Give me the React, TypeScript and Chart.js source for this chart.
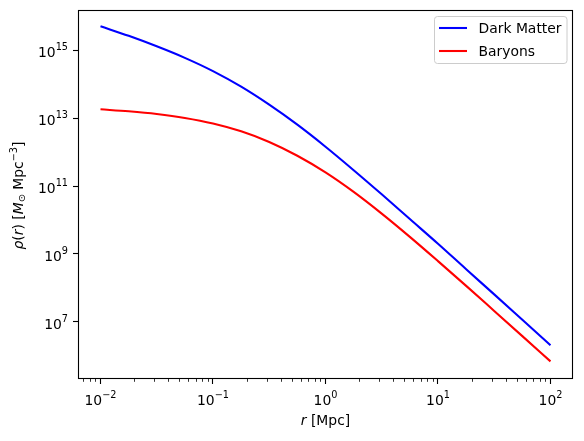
import React, { useEffect, useRef } from "react";
import { Chart, registerables } from "chart.js";

Chart.register(...registerables);

// ---- Data ----
const radiusMpc = [0.01, 0.0178, 0.0316, 0.0562, 0.1, 0.178, 0.316, 0.562, 1, 1.78, 3.16, 5.62, 10, 17.8, 31.6, 56.2, 100];
const darkMatterDensity = [5.13e15, 2.69e15, 1.32e15, 6.03e14, 2.45e14, 8.51e13, 2.51e13, 6.46e12, 1.45e12, 2.95e11, 5.75e10, 1.07e10, 2.0e9, 3.55e8, 6.46e7, 1.15e7, 2.04e6];
const baryonDensity = [1.84e13, 1.6e13, 1.33e13, 1.02e13, 7.0e12, 4.12e12, 2.0e12, 7.85e11, 2.54e11, 6.76e10, 1.55e10, 3.2e9, 6.17e8, 1.15e8, 2.1e7, 3.8e6, 6.84e5];
const seriesLabels = ["Dark Matter", "Baryons"];
const seriesColors = ["#0000ff", "#ff0000"];

const xTickValues = [0.01, 0.1, 1, 10, 100];
const xTickExponents = ["\u22122", "\u22121", "0", "1", "2"];
const yTickValues = [1e7, 1e9, 1e11, 1e13, 1e15];
const yTickExponents = ["7", "9", "11", "13", "15"];
const tickBase = "10";

const FONT = "'DejaVu Sans', 'Liberation Sans', sans-serif";
const FS = 13.9;
const SUP = 0.7;

type Seg = { t: string; i?: boolean; s?: number; dy?: number };

function segFont(seg: Seg) {
  const size = FS * (seg.s ?? 1);
  return `${seg.i ? "italic " : ""}${size}px ${FONT}`;
}

function measureRich(ctx: CanvasRenderingContext2D, segs: Seg[]) {
  return segs.map((sg) => {
    ctx.font = segFont(sg);
    return ctx.measureText(sg.t).width;
  });
}

// align: 0 = left start, 0.5 = centre, 1 = right end
function drawRich(ctx: CanvasRenderingContext2D, segs: Seg[], ax: number, baseY: number, align: number) {
  const widths = measureRich(ctx, segs);
  const total = widths.reduce((a, b) => a + b, 0);
  let x = ax - total * align;
  ctx.textAlign = "left";
  ctx.textBaseline = "alphabetic";
  segs.forEach((sg, k) => {
    ctx.font = segFont(sg);
    ctx.fillText(sg.t, x, baseY + (sg.dy ?? 0));
    x += widths[k];
  });
}

const decorPlugin = {
  id: "decor",
  afterDatasetsDraw(chart: any) {
    const { ctx, chartArea } = chart;
    const { left, right, top, bottom } = chartArea;
    const xs = chart.scales.x;
    const ys = chart.scales.y;
    ctx.save();
    ctx.fillStyle = "#000";
    ctx.strokeStyle = "#000";

    // minor ticks on x axis
    ctx.lineWidth = 0.8;
    for (let e = -3; e <= 2; e++) {
      for (let m = 2; m <= 9; m++) {
        const v = m * Math.pow(10, e);
        if (v < xs.min || v > xs.max) continue;
        const px = Math.round(xs.getPixelForValue(v)) + 0.5;
        ctx.beginPath();
        ctx.moveTo(px, bottom);
        ctx.lineTo(px, bottom + 2.8);
        ctx.stroke();
      }
    }

    // frame
    ctx.lineWidth = 1.1;
    ctx.strokeRect(Math.round(left) + 0.5, Math.round(top) + 0.5, Math.round(right - left) - 1, Math.round(bottom - top) - 1);

    // tick labels
    ctx.fillStyle = "#000";
    xTickValues.forEach((v, k) => {
      const px = xs.getPixelForValue(v);
      drawRich(ctx, [{ t: tickBase }, { t: xTickExponents[k], s: SUP, dy: -7 }], px, bottom + 26, 0.5);
    });
    yTickValues.forEach((v, k) => {
      const py = ys.getPixelForValue(v);
      drawRich(ctx, [{ t: tickBase }, { t: yTickExponents[k], s: SUP, dy: -7 }], left - 10, py + 7, 1);
    });

    // legend
    const bx = 434;
    const by = 16;
    const bw = 132.5;
    const bh = 47;
    ctx.beginPath();
    (ctx as any).roundRect(bx + 0.5, by + 0.5, bw, bh, 3);
    ctx.fillStyle = "rgba(255,255,255,0.8)";
    ctx.fill();
    ctx.strokeStyle = "#cccccc";
    ctx.lineWidth = 1;
    ctx.stroke();
    chart.data.datasets.forEach((ds: any, k: number) => {
      const rowY = by + 12 + k * 23;
      ctx.strokeStyle = ds.borderColor;
      ctx.lineWidth = 2.08;
      ctx.beginPath();
      ctx.moveTo(bx + 5, rowY);
      ctx.lineTo(bx + 33, rowY);
      ctx.stroke();
      ctx.fillStyle = "#000";
      ctx.font = `${FS}px ${FONT}`;
      ctx.textAlign = "left";
      ctx.textBaseline = "alphabetic";
      ctx.fillText(ds.label, bx + 44.5, rowY + 5);
    });

    // axis titles
    ctx.fillStyle = "#000";
    drawRich(ctx, [{ t: "r", i: true }, { t: " [Mpc]" }], (left + right) / 2, 424.5, 0.5);

    ctx.save();
    ctx.translate(22.5, 195.5);
    ctx.rotate(-Math.PI / 2);
    drawRich(
      ctx,
      [
        { t: "\u03C1", i: true },
        { t: "(" },
        { t: "r", i: true },
        { t: ")" },
        { t: " [" },
        { t: "M", i: true },
        { t: "\u2299", s: SUP, dy: 2.5 },
        { t: " Mpc" },
        { t: "\u22123", s: SUP, dy: -6 },
        { t: "]" },
      ],
      0,
      0,
      0.5
    );
    ctx.restore();
    ctx.restore();
  },
};

export default function App() {
  const canvasRef = useRef<HTMLCanvasElement | null>(null);

  useEffect(() => {
    document.body.style.margin = "0";
    const canvas = canvasRef.current;
    if (!canvas) return;
    const chart = new Chart(canvas, {
      type: "line",
      data: {
        datasets: [
          {
            label: seriesLabels[0],
            data: radiusMpc.map((r, k) => ({ x: r, y: darkMatterDensity[k] })),
            borderColor: seriesColors[0],
            borderWidth: 2.08,
            pointRadius: 0,
            fill: false,
            cubicInterpolationMode: "monotone",
          },
          {
            label: seriesLabels[1],
            data: radiusMpc.map((r, k) => ({ x: r, y: baryonDensity[k] })),
            borderColor: seriesColors[1],
            borderWidth: 2.08,
            pointRadius: 0,
            fill: false,
            cubicInterpolationMode: "monotone",
          },
        ],
      },
      options: {
        responsive: false,
        animation: false,
        events: [],
        layout: { padding: { top: 10, right: 11, left: 0, bottom: 0 } },
        plugins: { legend: { display: false }, tooltip: { enabled: false } },
        scales: {
          x: {
            type: "logarithmic",
            min: 0.00631,
            max: 158.5,
            afterBuildTicks: (s: any) => {
              s.ticks = xTickValues.map((v) => ({ value: v }));
            },
            afterFit: (s: any) => {
              s.height = 62;
              s.paddingLeft = 0;
              s.paddingRight = 0;
            },
            ticks: { display: false },
            grid: { display: true, drawOnChartArea: false, drawTicks: true, tickLength: 5, tickColor: "#000", tickWidth: 1.1 },
            border: { display: false },
          },
          y: {
            type: "logarithmic",
            min: 2.07e5,
            max: 1.55e16,
            afterBuildTicks: (s: any) => {
              s.ticks = yTickValues.map((v) => ({ value: v }));
            },
            afterFit: (s: any) => {
              s.width = 78;
              s.paddingTop = 0;
              s.paddingBottom = 0;
            },
            ticks: { display: false },
            grid: { display: true, drawOnChartArea: false, drawTicks: true, tickLength: 5, tickColor: "#000", tickWidth: 1.1 },
            border: { display: false },
          },
        },
      },
      plugins: [decorPlugin],
    } as any);
    return () => chart.destroy();
  }, []);

  return <canvas ref={canvasRef} width={584} height={441} style={{ display: "block" }} />;
}
